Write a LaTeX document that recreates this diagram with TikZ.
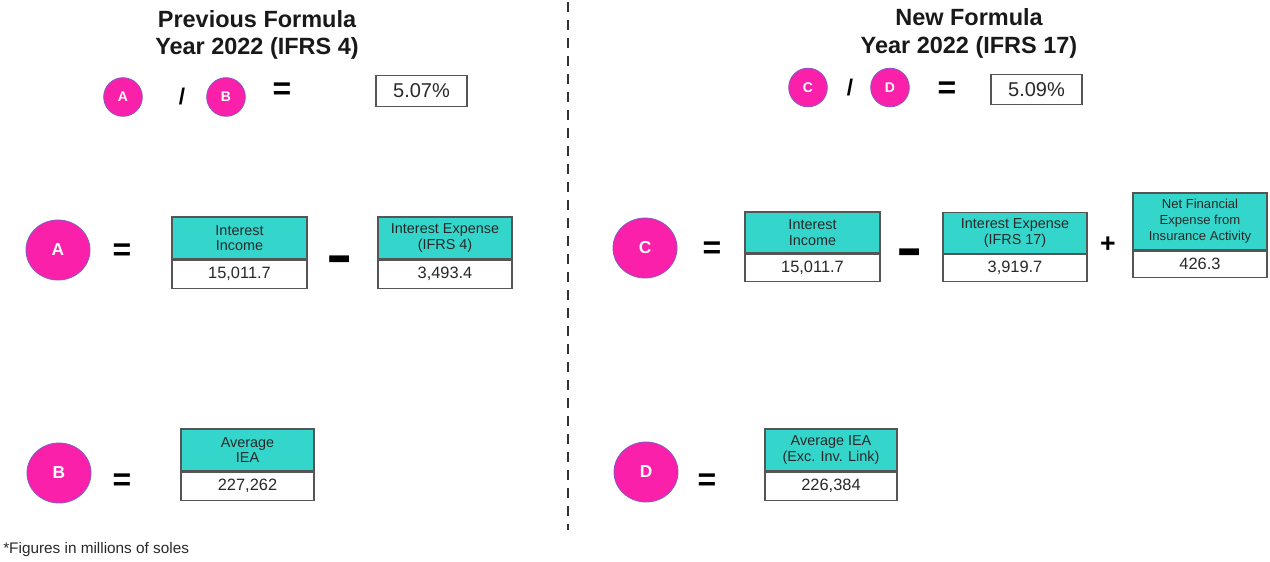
\documentclass[tikz,border=0pt]{standalone}
\usepackage{fontspec}
\usepackage{graphicx}
\setmainfont{Liberation Sans}
\usetikzlibrary{shapes.geometric}
\definecolor{pinkc}{RGB}{250,32,170}
\definecolor{ringc}{RGB}{130,90,200}
\definecolor{tealc}{RGB}{52,214,204}
\definecolor{edgec}{RGB}{85,85,85}
\definecolor{txtc}{RGB}{40,40,40}
\begin{document}
\begin{tikzpicture}[x=0.75pt,y=-0.75pt,
  lab/.style={draw=edgec, fill=tealc, line width=0.8pt, inner sep=0pt, align=center,
    font=\fontsize{10.8}{11.5}\selectfont, text=txtc},
  smalllab/.style={lab, font=\fontsize{9.8}{12}\selectfont},
  val/.style={draw=edgec, fill=white, line width=0.8pt, inner sep=0pt,
    font=\fontsize{12.3}{14}\selectfont, text=txtc},
  opsign/.style={font=\bfseries\fontsize{24}{24}\selectfont, inner sep=0pt},
  minussign/.style={font=\bfseries\fontsize{30}{30}\selectfont, inner sep=0pt},
  bigc/.style={ellipse, fill=pinkc, draw=ringc, line width=0.6pt, minimum width=48pt,
    minimum height=45pt, inner sep=0pt, text=white, font=\bfseries\fontsize{13}{13}\selectfont},
  smallc/.style={circle, fill=pinkc, draw=ringc, line width=0.6pt, minimum size=29pt,
    inner sep=0pt, text=white, font=\bfseries\fontsize{10.5}{10.5}\selectfont},
  pct/.style={draw=edgec, line width=0.8pt, minimum width=68.25pt, minimum height=23pt,
    inner sep=0pt, font=\fontsize{15}{15}\selectfont, text=txtc},
  ttl/.style={font=\bfseries\fontsize{17.6}{20.5}\selectfont, align=center, text=black!90},
  dashline/.style={draw=black!80, line width=2.1pt, dash pattern=on 7.5pt off 6pt}
]
\useasboundingbox (0,0) rectangle (1270,561);

% divider
\coordinate (dtop) at (568,2);
\coordinate (dbot) at (568,530);
\draw[dashline] (dtop) -- (dbot);

% titles
\node[ttl] (t1) at (257,35) {Previous Formula\\Year 2022 (IFRS 4)};
\node[ttl] (t2) at (969,33.5) {New Formula\\Year 2022 (IFRS 17)};

% top formula left
\node[smallc] (sa) at (123,97) {A};
\node[opsign, font=\bfseries\fontsize{17}{17}\selectfont] (sl1) at (182,97) {/};
\node[smallc] (sb) at (226,97) {B};
\node[opsign] (se1) at (282,91) {=};
\node[pct] (p1) at (421.5,91) {5.07\%};

% top formula right
\node[smallc] (sc) at (808,87.5) {C};
\node[opsign, font=\bfseries\fontsize{17}{17}\selectfont] (sl2) at (850,87.5) {/};
\node[smallc] (sd) at (890,87.5) {D};
\node[opsign] (se2) at (947,90) {=};
\node[pct] (p2) at (1036.5,89.5) {5.09\%};

% row A
\node[bigc] (ca) at (58,250) {A};
\node[opsign] (ea) at (122,252) {=};
\node[lab, minimum width=101.25pt, minimum height=31.5pt] (ii1) at (239.5,238) {Interest\\Income};
\node[val, minimum width=101.25pt, minimum height=21pt, anchor=north] (ii1v) at (ii1.south) {15,011.7};
\node[minussign] (ma) at (340,267) {\scalebox{1}[1.7]{–}};
\node[lab, minimum width=100.5pt, minimum height=31.5pt] (ie4) at (445,238) {Interest Expense\\(IFRS 4)};
\node[val, minimum width=100.5pt, minimum height=21pt, anchor=north] (ie4v) at (ie4.south) {3,493.4};

% row C
\node[bigc] (cc) at (645,248) {C};
\node[opsign] (ec) at (712,250) {=};
\node[lab, minimum width=101.25pt, minimum height=30.75pt] (ii2) at (812.5,232.5) {Interest\\Income};
\node[val, minimum width=101.25pt, minimum height=20.25pt, anchor=north] (ii2v) at (ii2.south) {15,011.7};
\node[minussign] (mc) at (910,260) {\scalebox{1}[1.7]{–}};
\node[lab, minimum width=108pt, minimum height=30.75pt] (ie17) at (1015,233) {Interest Expense\\(IFRS 17)};
\node[val, minimum width=108pt, minimum height=20.25pt, anchor=north] (ie17v) at (ie17.south) {3,919.7};
\node[opsign, font=\bfseries\fontsize{20}{20}\selectfont] (pc) at (1108,245) {+};
\node[smalllab, minimum width=100.5pt, minimum height=42.75pt] (nf) at (1200,221.5) {Net Financial\\Expense from\\Insurance Activity};
\node[val, minimum width=100.5pt, minimum height=19.5pt, anchor=north] (nfv) at (nf.south) {426.3};

% row B
\node[bigc] (cb) at (59,473) {B};
\node[opsign] (eb) at (122,482) {=};
\node[lab, minimum width=99.75pt, minimum height=31.5pt] (ab) at (247.5,450) {Average\\IEA};
\node[val, minimum width=99.75pt, minimum height=21pt, anchor=north] (abv) at (ab.south) {227,262};

% row D
\node[bigc] (cd) at (646,472) {D};
\node[opsign] (ed) at (707,482) {=};
\node[lab, minimum width=99pt, minimum height=31.5pt] (ad) at (831,450) {Average IEA\\(Exc. Inv. Link)};
\node[val, minimum width=99pt, minimum height=21pt, anchor=north] (adv) at (ad.south) {226,384};

% footnote
\node[anchor=west, inner sep=0pt, font=\fontsize{11.5}{13}\selectfont, text=txtc] (fn) at (3,550) {*Figures in millions of soles};
\end{tikzpicture}
\end{document}
